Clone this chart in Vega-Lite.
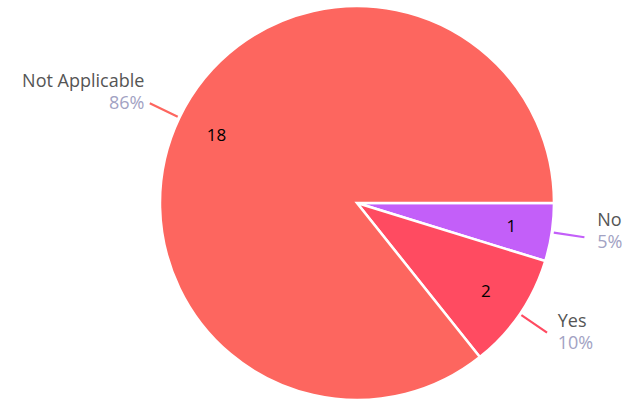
{
  "$schema": "https://vega.github.io/schema/vega-lite/v6.json",
  "width": 400,
  "height": 398,
  "autosize": {"type": "none"},
  "padding": {"left": 157, "top": 4, "right": 66, "bottom": 0},
  "background": "white",
  "view": {"stroke": null},
  "data": {
    "values": [
      {"answer": "No", "count": 1, "pct": "5%", "order": 1},
      {"answer": "Yes", "count": 2, "pct": "10%", "order": 2},
      {"answer": "Not Applicable", "count": 18, "pct": "86%", "order": 3}
    ]
  },
  "transform": [
    {"stack": "count", "groupby": [], "sort": [{"field": "order", "order": "ascending"}], "as": ["s0", "s1"]},
    {"fold": ["s0", "s1"], "as": ["edge", "pos"]},
    {"aggregate": [{"op": "mean", "field": "pos", "as": "mid"}], "groupby": ["answer", "count", "pct", "order"]}
  ],
  "layer": [
    {
      "mark": {"type": "arc", "outerRadius": 197, "stroke": "white", "strokeWidth": 2.5},
      "encoding": {
        "theta": {"field": "count", "type": "quantitative", "stack": true, "scale": {"range": [1.5707963, 7.8539816]}},
        "order": {"field": "order", "type": "quantitative", "sort": "ascending"},
        "color": {"field": "answer", "type": "nominal", "scale": {"domain": ["No", "Yes", "Not Applicable"], "range": ["#c35ff9", "#ff4b61", "#fd665f"]}, "legend": null}
      }
    },
    {
      "mark": {"type": "arc", "innerRadius": 199, "outerRadius": 230, "filled": false, "strokeWidth": 2.2},
      "encoding": {
        "theta": {"field": "mid", "type": "quantitative", "stack": null},
        "theta2": {"field": "mid"},
        "stroke": {"field": "answer", "type": "nominal", "scale": {"domain": ["No", "Yes", "Not Applicable"], "range": ["#c35ff9", "#ff4b61", "#fd665f"]}, "legend": null}
      }
    },
    {
      "mark": {"type": "text", "radius": 156, "fontSize": 17, "font": "Open Sans", "fontWeight": 500, "color": "#000000", "baseline": "middle", "dy": 1},
      "encoding": {
        "theta": {"field": "mid", "type": "quantitative", "stack": null},
        "text": {"field": "count", "type": "quantitative"}
      }
    },
    {
      "transform": [{"filter": "datum.answer != 'Not Applicable'"}],
      "mark": {"type": "text", "radius": 243, "align": "left", "baseline": "middle", "dy": -18, "fontSize": 18, "font": "Open Sans", "color": "#555555"},
      "encoding": {
        "theta": {"field": "mid", "type": "quantitative", "stack": null},
        "text": {"field": "answer", "type": "nominal"}
      }
    },
    {
      "transform": [{"filter": "datum.answer != 'Not Applicable'"}],
      "mark": {"type": "text", "radius": 243, "align": "left", "baseline": "middle", "dy": 4, "fontSize": 18, "font": "Open Sans", "color": "#a2a2c3"},
      "encoding": {
        "theta": {"field": "mid", "type": "quantitative", "stack": null},
        "text": {"field": "pct", "type": "nominal"}
      }
    },
    {
      "transform": [{"filter": "datum.answer == 'Not Applicable'"}],
      "mark": {"type": "text", "radius": 236, "align": "right", "baseline": "middle", "dy": -19, "fontSize": 18, "font": "Open Sans", "color": "#555555"},
      "encoding": {
        "theta": {"field": "mid", "type": "quantitative", "stack": null},
        "text": {"field": "answer", "type": "nominal"}
      }
    },
    {
      "transform": [{"filter": "datum.answer == 'Not Applicable'"}],
      "mark": {"type": "text", "radius": 236, "align": "right", "baseline": "middle", "dy": 3, "fontSize": 18, "font": "Open Sans", "color": "#a2a2c3"},
      "encoding": {
        "theta": {"field": "mid", "type": "quantitative", "stack": null},
        "text": {"field": "pct", "type": "nominal"}
      }
    }
  ]
}
